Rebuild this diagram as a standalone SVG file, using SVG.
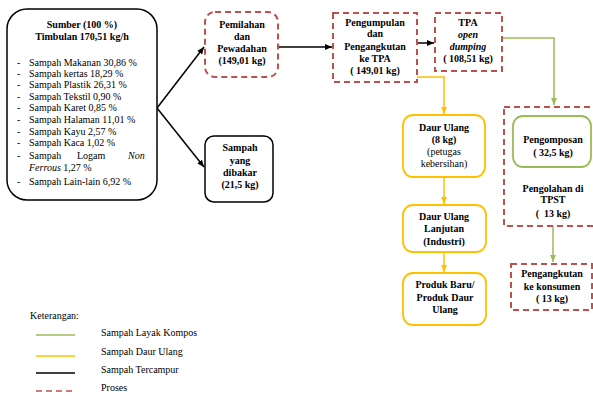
<svg xmlns="http://www.w3.org/2000/svg" width="593" height="397" viewBox="0 0 593 397">
<style>
text{font-family:"Liberation Serif","Times New Roman","DejaVu Serif",serif;font-size:10px;fill:#000}
.b{font-weight:bold}
.c{text-anchor:middle}
.i{font-style:italic}
.blk{fill:#fff;stroke:#000;stroke-width:1.5}
.red{fill:#fff;stroke:#C0504D;stroke-width:2;stroke-dasharray:6 4}
.yel{fill:#fff;stroke:#FFC000;stroke-width:1.8}
.grn{fill:#fff;stroke:#9BBB59;stroke-width:1.8}
.lk{fill:none;stroke:#000;stroke-width:1.5}
.ly{fill:none;stroke:#FFC000;stroke-width:1.5}
.lg{fill:none;stroke:#9BBB59;stroke-width:1.5}
</style>
<defs>
<marker id="ak" markerWidth="8" markerHeight="8" refX="7" refY="4" orient="auto" markerUnits="userSpaceOnUse"><path d="M0,1 L7,4 L0,7 z" fill="#000"/></marker>
<marker id="ay" markerWidth="8" markerHeight="8" refX="7" refY="4" orient="auto" markerUnits="userSpaceOnUse"><path d="M0,1 L7,4 L0,7 z" fill="#FFC000"/></marker>
<marker id="ag" markerWidth="8" markerHeight="8" refX="7" refY="4" orient="auto" markerUnits="userSpaceOnUse"><path d="M0,1 L7,4 L0,7 z" fill="#9BBB59"/></marker>
</defs>

<g id="connectors">
<path class="lk" d="M157,108 L204,47" marker-end="url(#ak)"/>
<path class="lk" d="M157,108 L204,167" marker-end="url(#ak)"/>
<path class="lk" d="M278,47 L332,47" marker-end="url(#ak)"/>
<path class="lk" d="M417,43 L434,43" marker-end="url(#ak)"/>
<path class="ly" d="M417,77 H444 V114" marker-end="url(#ay)"/>
<path class="ly" d="M444,177 V204" marker-end="url(#ay)"/>
<path class="ly" d="M444,252 V272" marker-end="url(#ay)"/>
<path class="lg" d="M503,38 H554 V105" marker-end="url(#ag)"/>
<path class="lg" d="M553,226 V262" marker-end="url(#ag)"/>
</g>

<g id="sumber">
<rect class="blk" x="7" y="9" width="150" height="191" rx="20"/>
<text class="b c" x="82" y="28">Sumber (100 %)</text>
<text class="b c" x="82" y="40">Timbulan 170,51 kg/h</text>
<text x="17" y="66">-</text><text x="29" y="66">Sampah Makanan 30,86 %</text>
<text x="17" y="77">-</text><text x="29" y="77">Sampah kertas 18,29 %</text>
<text x="17" y="88">-</text><text x="29" y="88">Sampah Plastik 26,31 %</text>
<text x="17" y="100">-</text><text x="29" y="100">Sampah Tekstil 0,90 %</text>
<text x="17" y="111">-</text><text x="29" y="111">Sampah Karet 0,85 %</text>
<text x="17" y="123">-</text><text x="29" y="123">Sampah Halaman 11,01 %</text>
<text x="17" y="135">-</text><text x="29" y="135">Sampah Kayu 2,57 %</text>
<text x="17" y="146">-</text><text x="29" y="146">Sampah Kaca 1,02 %</text>
<text x="17" y="159">-</text><text x="29" y="159">Sampah</text><text x="77" y="159">Logam</text><text class="i" x="128" y="159">Non</text>
<text class="i" x="29" y="171">Ferrous <tspan font-style="normal">1,27 %</tspan></text>
<text x="17" y="185">-</text><text x="29" y="185">Sampah Lain-lain 6,92 %</text>
</g>

<g id="pemilahan">
<rect class="red" x="205" y="12" width="73" height="65" rx="10"/>
<text class="b c" x="242" y="28">Pemilahan</text>
<text class="b c" x="242" y="40">dan</text>
<text class="b c" x="242" y="52">Pewadahan</text>
<text class="b c" x="242" y="64">(149,01 kg)</text>
</g>

<g id="dibakar">
<rect class="blk" x="205" y="136" width="68" height="66" rx="9"/>
<text class="b c" x="240" y="151">Sampah</text>
<text class="b c" x="240" y="164">yang</text>
<text class="b c" x="240" y="176">dibakar</text>
<text class="b c" x="240" y="188">(21,5 kg)</text>
</g>

<g id="pengumpulan">
<rect class="red" x="333" y="13" width="84" height="69"/>
<text class="b c" x="375" y="26">Pengumpulan</text>
<text class="b c" x="375" y="37">dan</text>
<text class="b c" x="375" y="50">Pengangkutan</text>
<text class="b c" x="375" y="62">ke TPA</text>
<text class="b c" x="375" y="74">( 149,01 kg)</text>
</g>

<g id="tpa">
<rect class="red" x="435" y="13" width="67" height="58"/>
<text class="b c" x="468" y="26">TPA</text>
<text class="b c i" x="468" y="38">open</text>
<text class="b c i" x="468" y="50">dumping</text>
<text class="b c" x="468" y="62">( 108,51 kg)</text>
</g>

<g id="daur-ulang">
<rect class="yel" x="403" y="115" width="82" height="62" rx="10"/>
<text class="b c" x="444" y="131">Daur Ulang</text>
<text class="b c" x="444" y="143">(8 kg)</text>
<text class="c" x="444" y="155">(petugas</text>
<text class="c" x="444" y="167">kebersihan)</text>
</g>

<g id="daur-ulang-lanjutan">
<rect class="yel" x="403" y="205" width="83" height="47" rx="10"/>
<text class="b c" x="444" y="220">Daur Ulang</text>
<text class="b c" x="444" y="232">Lanjutan</text>
<text class="b c" x="444" y="245">(Industri)</text>
</g>

<g id="produk">
<rect class="yel" x="403" y="273" width="83" height="52" rx="10"/>
<text class="b c" x="445" y="288">Produk Baru/</text>
<text class="b c" x="445" y="301">Produk Daur</text>
<text class="b c" x="445" y="313">Ulang</text>
</g>

<g id="pengolahan">
<rect class="red" x="504" y="107" width="95" height="119"/>
<text class="b c" x="553" y="192">Pengolahan di</text>
<text class="b c" x="553" y="203">TPST</text>
<text class="b c" x="553" y="217" xml:space="preserve">(  13 kg)</text>
</g>

<g id="pengomposan">
<rect class="grn" x="513" y="116" width="78" height="51" rx="10"/>
<text class="b c" x="553" y="143">Pengomposan</text>
<text class="b c" x="553" y="156">( 32,5 kg)</text>
</g>

<g id="pengangkutan">
<rect class="red" x="511" y="264" width="81" height="46"/>
<text class="b c" x="552" y="277">Pengangkutan</text>
<text class="b c" x="552" y="290">ke konsumen</text>
<text class="b c" x="552" y="302">( 13 kg)</text>
</g>

<g id="legend">
<text x="30" y="319">Keterangan:</text>
<line x1="36" y1="335" x2="75" y2="335" stroke="#9BBB59" stroke-width="1.5"/>
<line x1="36" y1="356" x2="75" y2="356" stroke="#FFC000" stroke-width="1.5"/>
<line x1="36" y1="373" x2="75" y2="373" stroke="#000" stroke-width="1.5"/>
<line x1="36" y1="391" x2="75" y2="391" stroke="#C0504D" stroke-width="1.5" stroke-dasharray="6 4"/>
<text x="101" y="336">Sampah Layak Kompos</text>
<text x="101" y="355">Sampah Daur Ulang</text>
<text x="101" y="373">Sampah Tercampur</text>
<text x="101" y="391">Proses</text>
</g>
</svg>
